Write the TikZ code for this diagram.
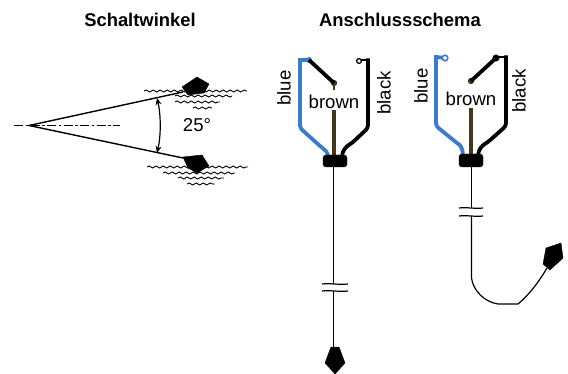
\documentclass[tikz,border=0pt]{standalone}
\usepackage{fontspec}
\setmainfont{Liberation Sans}
\usetikzlibrary{decorations.pathmorphing,arrows.meta,positioning}

\definecolor{wireblue}{HTML}{3A7BD0}
\definecolor{wirebrown}{HTML}{43391A}

\tikzset{
  title/.style={font=\fontsize{18.4}{20}\selectfont\bfseries},
  wirelabel/.style={font=\fontsize{18.6}{20}\selectfont,inner sep=0pt},
  wave/.style={line width=0.9pt,decorate,decoration={snake,segment length=7pt,amplitude=1pt}},
  wire/.style={line width=3.8pt,line join=round},
  thinwire/.style={line width=1.2pt},
  float/.style={fill=black,draw=black,line join=round},
}

\begin{document}
\begin{tikzpicture}[x=1pt,y=-1pt]
  \useasboundingbox (0,0) rectangle (568,374);

  \node[title] (title1) at (140,20) {Schaltwinkel};
  \node[title] (title2) at (400,20) {Anschlussschema};

  % switching angle
  \coordinate (apex) at (29,125.5);
  \coordinate (up) at (183,92);
  \coordinate (low) at (183,158);
  \draw[line width=0.9pt,dash pattern=on 9pt off 2.5pt on 2.5pt off 2.5pt] (14,125.5) -- (120,125.5);
  \draw[line width=1.4pt] (up) -- (apex) -- (low);
  \draw[{Stealth[length=7pt,width=6pt]}-{Stealth[length=7pt,width=6pt]},line width=1.2pt] (157,98) .. controls (161,115) and (161,136) .. (157,153);
  \node[wirelabel] (angle) at (197,125) {25°};

  \draw[wave] (144,91) -- (247,91);
  \draw[wave] (175,96) -- (232,96);
  \draw[wave] (175,102) -- (220,102);
  \draw[wave] (193,108) -- (212,108);
  \draw[float] (182,87) -- (197,77) -- (209,84) -- (204,93) -- (188,95) -- cycle;

  \draw[wave] (147,167) -- (248,167);
  \draw[wave] (163,173) -- (235,173);
  \draw[wave] (178,178) -- (224,178);
  \draw[wave] (187,184) -- (215,184);
  \draw[float] (183,157) -- (202,155) -- (209,166) -- (197,173) -- (188,168) -- cycle;

  % left scheme
  \draw[wire,wirebrown] (334,110) -- (334,156);
  \draw[wirebrown,line width=1.4pt] (334,83) -- (334,90);
  \draw[wire,wireblue] (309,60) -- (300,60);
  \draw[wire,wireblue,rounded corners=3pt,line cap=rect] (300,60) -- (300,128) -- (320,146) .. controls (325,150) and (328,152) .. (328,157);
  \draw[thinwire] (361,60) -- (368,60);
  \draw[wire,rounded corners=3pt] (368,58.5) -- (368,128) -- (352,143) .. controls (347,146) and (342,150) .. (342,157);
  \fill[wireblue] (309,60) circle (3pt);
  \fill[wirebrown] (334,83) circle (3.2pt);
  \draw[wire] (309,60) -- (334,83);
  \draw[line width=1.3pt,fill=white] (359,61) circle (2.4pt);
  \node[wirelabel,rotate=90] (blue1) at (284,88) {blue};
  \node[wirelabel] (brown1) at (334,102) {brown};
  \node[wirelabel,rotate=90] (black1) at (384,93) {black};
  \draw[float,rounded corners=3pt] (323,155) rectangle (347,167);
  \draw[thinwire] (333.5,167) -- (333.5,284);
  \draw[thinwire] (333.5,291) -- (333.5,348);
  \draw[thinwire] (322,284) .. controls (330,283) and (338,285) .. (348,284);
  \draw[thinwire] (322,291) .. controls (330,290) and (338,292) .. (348,291);
  \draw[float] (331,347) -- (339,347) -- (345,363) -- (335,374) -- (325,363) -- cycle;

  % right scheme
  \draw[wire,wirebrown] (471,108) -- (471,155);
  \draw[wire,wireblue] (445,58) -- (436,57);
  \draw[wire,wireblue,rounded corners=3pt,line cap=rect] (436,57) -- (436,126) -- (457,143) .. controls (461,146) and (463,150) .. (463,156);
  \draw[wire,rounded corners=3pt] (506,55.5) -- (506,126) -- (488,142) .. controls (483,145) and (478,149) .. (478,156);
  \draw[thinwire] (496,57) -- (506,57);
  \fill[wirebrown] (471,81) circle (3.2pt);
  \draw[wire] (471,81) -- (496,58);
  \fill (496,58) circle (3.5pt);
  \draw[wireblue,line width=1.6pt,fill=white] (445,58) circle (2.8pt);
  \node[wirelabel,rotate=90] (blue2) at (421,86) {blue};
  \node[wirelabel] (brown2) at (471,99) {brown};
  \node[wirelabel,rotate=90] (black2) at (519,91) {black};
  \draw[float,rounded corners=3pt] (459,154) rectangle (483,167);
  \draw[thinwire] (471.5,167) -- (471.5,208);
  \draw[thinwire] (471.5,216) -- (471.5,278) .. controls (473,290) and (484,302) .. (498,304) -- (518,304) .. controls (530,294) and (540,280) .. (547,268);
  \draw[thinwire] (459,208) .. controls (467,207) and (475,209) .. (483,208);
  \draw[thinwire] (459,216) .. controls (467,215) and (475,217) .. (483,216);
  \draw[float] (546,248) -- (561,243) -- (563,258) -- (550,270) -- (543,264) -- cycle;
\end{tikzpicture}
\end{document}
